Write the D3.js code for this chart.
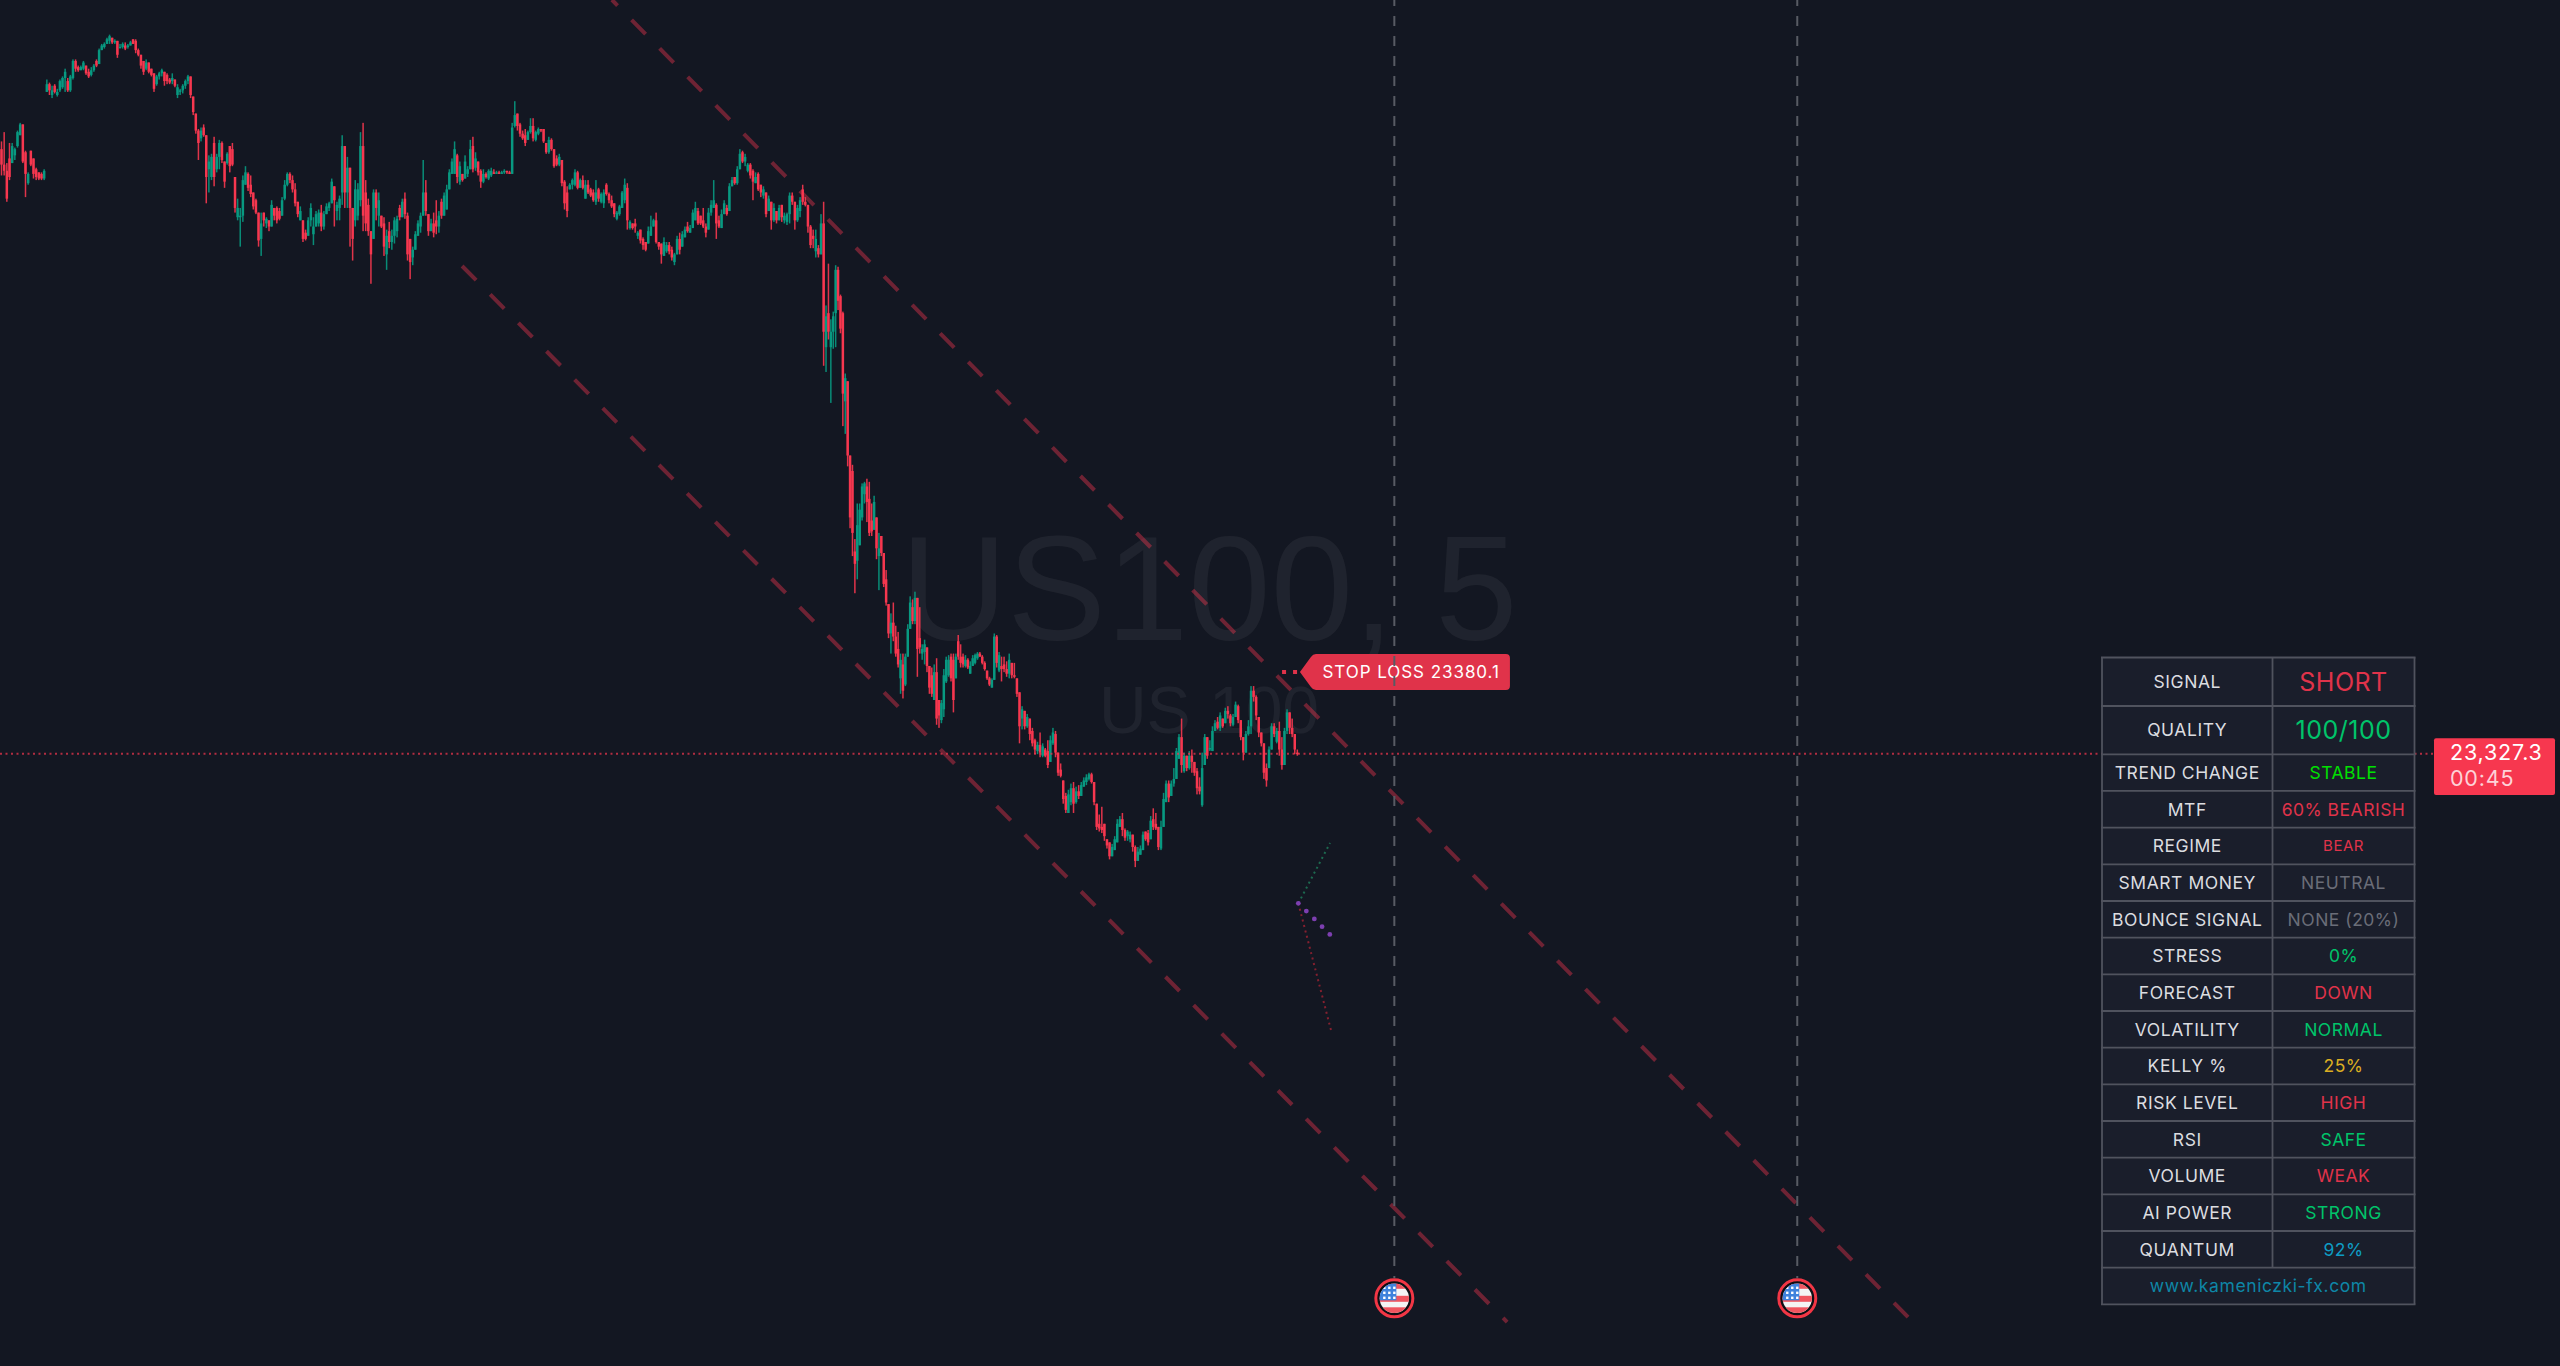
<!DOCTYPE html>
<html><head><meta charset="utf-8">
<script src="https://cdn.jsdelivr.net/npm/d3@7/dist/d3.min.js"></script>
<style>html,body{margin:0;padding:0;background:#131722;overflow:hidden}svg{display:block}</style>
</head><body><svg id="c" width="2560" height="1366"></svg>
<script>
// Prices are points above priceBase; each candle is [open, high, low, close].
const priceBase = 23000;
const symbolTitle = "US100, 5";
const symbolName = "US 100";
const lastPrice = 23327.3;
const countdown = "00:45";
const stopLossPrice = 23380.1;
const legBounds = [0,17,165,308.3,375,486.9];   // bar index where each leg starts
const legA = [[718,723,701,708],[708,729,701,704],[704,709,684,686],[712,722,698,700],[709,722,709,720],[714,719,711,718],[720,730,719,729],[727,735,727,734],[734,734,709,710],[716,717,687,702],[696,703,695,702],[717,717,707,708],[712,712,699,702],[705,706,698,700],[703,703,698,699],[702,703,698,699],[699,705,698,704]];
const legB = [[755,763,755,760],[760,761,753,756],[753,759,751,756],[759,760,754,755],[753,757,752,755],[756,763,755,762],[758,765,757,764],[764,770,755,768],[762,764,755,756],[756,766,755,765],[764,776,763,775],[775,776,768,770],[771,772,768,769],[769,772,769,771],[770,775,769,774],[772,772,766,767],[768,770,764,765],[766,771,765,769],[769,773,768,772],[775,776,771,772],[773,783,773,782],[782,786,782,785],[784,787,783,786],[786,790,786,789],[788,792,786,791],[790,790,786,787],[787,789,786,788],[788,788,777,779],[784,786,783,784],[784,787,783,786],[785,787,782,783],[784,786,783,785],[785,788,785,787],[789,789,786,786],[788,789,780,782],[782,783,778,779],[779,779,770,772],[775,775,766,768],[770,776,769,774],[774,774,767,768],[770,770,765,766],[767,767,755,757],[760,766,759,765],[765,768,763,767],[767,770,765,769],[768,768,759,762],[766,767,760,762],[763,764,760,761],[762,767,760,764],[763,763,758,759],[753,760,751,758],[755,757,753,756],[756,760,754,759],[759,763,757,762],[762,766,760,765],[765,765,751,753],[752,752,740,742],[741,741,728,730],[730,731,711,722],[725,732,723,730],[732,734,726,727],[727,727,683,700],[705,714,690,710],[700,715,698,713],[722,726,694,700],[705,715,703,713],[713,724,705,722],[722,723,709,711],[710,710,693,697],[709,716,708,715],[720,720,703,707],[718,722,707,708],[700,700,677,680],[674,686,672,680],[674,680,655,675],[675,701,671,698],[695,707,696,703],[702,703,691,693],[695,701,687,689],[690,690,679,681],[685,686,676,677],[677,677,655,659],[660,677,649,670],[677,677,668,672],[670,674,667,673],[672,672,665,668],[668,685,668,682],[680,680,672,675],[680,681,670,672],[678,680,672,673],[675,687,675,685],[686,698,685,695],[695,703,694,702],[702,703,696,698],[698,701,690,692],[692,696,681,683],[684,684,674,676],[672,681,672,678],[672,672,658,660],[664,666,659,660],[662,674,662,672],[672,683,668,680],[663,674,656,668],[668,678,668,676],[670,679,668,677],[677,682,665,668],[668,678,666,676],[676,683,677,681],[680,684,678,683],[683,699,683,697],[694,694,668,685],[678,684,672,682],[680,688,672,686],[690,727,682,720],[720,719,680,690],[690,713,680,706],[706,703,655,680],[680,680,646,660],[672,698,668,692],[675,696,672,692],[685,729,681,720],[720,735,665,675],[690,698,665,670],[682,686,662,665],[665,665,631,650],[660,692,664,690],[690,692,672,680],[675,690,668,685],[675,675,667,668],[670,674,649,655],[650,666,640,662],[665,671,654,658],[658,666,653,662],[662,674,657,672],[665,675,661,673],[680,682,672,674],[674,686,675,684],[686,690,673,676],[675,677,646,650],[660,660,634,645],[648,655,643,653],[653,665,654,663],[662,672,663,670],[668,677,664,675],[675,711,675,690],[690,698,675,678],[676,676,662,665],[665,673,667,670],[670,677,661,664],[672,685,663,668],[668,678,664,675]];
const legC = [[684,686,673,675],[675,690,679,688],[679,695,679,692],[692,705,692,703],[702,712,702,710],[702,723,702,718],[714,715,696,700],[697,710,695,707],[702,702,697,698],[699,714,699,710],[702,707,700,705],[705,724,705,718],[720,726,703,705],[706,716,704,712],[710,710,701,703],[704,705,693,697],[697,705,696,702],[702,703,699,700],[699,705,698,704],[701,706,700,704],[703,705,702,702],[702,704,702,703],[703,704,702,702],[702,704,702,703],[703,705,702,704],[704,704,702,703],[703,704,702,702],[702,735,702,732],[733,749,732,740],[741,741,730,733],[734,735,726,728],[728,730,724,725],[727,731,720,722],[724,730,725,729],[729,738,728,733],[733,738,723,725],[724,730,723,729],[728,732,727,731],[731,731,729,730],[731,729,722,723],[722,722,715,716],[716,726,715,724],[724,725,717,718],[718,718,706,707],[712,714,707,708],[708,715,707,713],[711,711,694,696],[697,698,679,683],[690,694,674,678],[692,696,692,695],[695,699,692,698],[695,705,694,703],[703,704,692,693],[693,699,693,698],[698,701,692,693],[686,698,686,695],[695,698,689,690],[692,693,687,688],[690,692,684,685],[684,698,682,690],[692,693,684,686],[684,690,683,689],[683,692,680,690],[695,696,688,689],[689,690,683,685],[685,688,680,681],[683,683,674,676],[673,678,672,677],[676,682,675,681],[680,691,680,690],[685,699,683,695],[693,696,666,672],[667,672,666,671],[670,670,666,667],[670,673,664,668],[662,665,660,664],[666,665,657,659],[660,661,653,656],[658,658,652,653],[657,668,657,665],[662,675,662,668],[668,673,668,672],[672,677,657,658],[658,657,653,655],[657,657,644,650],[649,661,649,658],[652,658,651,656],[656,658,650,652],[653,655,646,648],[645,651,643,650],[650,662,650,660],[660,664,650,653],[655,665,658,663],[661,668,662,666],[668,671,664,665],[664,669,664,667],[667,679,667,677],[672,684,672,680],[678,680,669,670],[675,675,669,670],[672,680,667,668],[668,670,661,664],[666,680,668,677],[677,685,675,682],[680,698,682,685],[682,683,660,670],[672,675,667,668],[667,679,668,676],[676,685,677,683],[680,682,675,676],[678,696,685,694],[694,700,694,698],[700,700,695,696],[696,707,695,705],[705,718,705,715],[716,717,709,710],[710,715,707,713],[704,709,703,708],[708,709,699,701],[704,705,685,697],[696,703,696,700],[702,703,691,692],[695,695,687,690],[688,694,686,692],[690,688,674,676],[678,688,678,686],[684,683,666,672],[672,683,671,680],[678,677,670,672],[672,682,675,680],[682,682,671,674],[672,677,670,675],[671,677,669,676],[676,690,670,688],[688,690,682,684],[684,684,666,672],[672,682,671,680],[678,687,674,685],[692,695,682,684],[684,687,681,682],[682,682,664,668],[668,669,654,656],[662,666,654,660],[652,666,648,660],[654,656,648,650],[650,676,653,670]];
const legD = [[670,684,578,600],[590,617,574,610],[612,644,595,600],[590,608,554,600],[600,613,589,610],[612,643,590,640],[640,642,614,620],[623,624,599,602],[612,613,539,560],[555,573,534,570],[568,560,513,520],[520,512,473,480],[510,514,455,470],[458,466,431,450],[452,489,440,475],[462,489,466,485],[480,502,478,500],[495,503,489,502],[500,505,477,490],[492,503,468,470],[478,489,468,471],[472,494,480,490],[480,480,453,460],[455,470,433,460],[468,468,455,457],[457,457,435,437],[440,446,423,425],[424,424,402,405],[405,418,392,412],[412,425,400,403],[403,410,390,392],[395,406,383,385],[376,392,366,388],[385,392,363,368],[372,392,371,390],[390,411,390,408],[408,429,415,425],[422,427,411,413],[413,432,411,428],[428,423,377,395],[402,422,392,396],[392,398,388,395],[393,401,385,398],[396,392,380,384],[384,382,366,370],[378,383,364,366],[362,385,364,380],[380,389,346,350],[362,362,344,352],[349,362,347,360],[356,382,351,378],[374,390,373,388],[378,391,377,388],[390,392,374,376],[388,392,354,362],[376,392,376,390],[400,404,388,390],[390,398,383,386],[390,392,383,385],[384,391,383,388],[388,389,382,383],[379,387,379,384],[384,391,384,389],[386,392,385,391],[389,393,388,392],[392,393,390,390],[390,391,385,386],[386,387,381,382],[381,381,375,376],[376,377,371,372],[370,376,370,375],[375,405,375,403],[403,404,383,386],[381,393,380,391]];
const legE = [[384,390,374,382],[385,390,380,382],[382,387,377,379],[379,392,376,388],[386,386,376,378],[378,386,376,377],[376,376,364,366],[367,367,334,345],[350,358,343,356],[355,352,343,345],[345,353,344,351],[350,347,336,340],[342,344,332,334],[336,337,327,330],[329,335,327,333],[333,341,325,328],[326,334,325,332],[330,331,325,326],[329,336,318,320],[322,339,327,336],[334,344,333,341],[340,342,325,328],[328,326,313,315],[317,321,312,313],[310,310,295,298],[300,302,289,291],[289,304,289,301],[296,308,294,305],[305,309,289,295],[296,306,295,303],[303,307,298,300],[300,309,300,307],[306,312,306,310],[309,314,307,312],[311,315,310,314],[314,315,308,309],[309,309,294,296],[295,293,278,280],[282,288,277,279],[280,293,276,278],[282,279,271,274],[272,272,266,268],[270,268,259,261],[261,269,263,267],[265,274,267,272],[270,285,271,282],[280,287,280,285],[285,289,274,278],[278,279,271,273],[274,278,271,277],[272,277,270,275],[275,274,264,267],[267,268,254,258],[258,267,258,264],[262,268,263,266],[265,277,267,275],[277,277,271,272],[276,278,268,270],[272,287,278,284],[285,292,278,280],[282,289,278,279],[280,279,265,267],[266,284,265,280],[280,302,294,298],[296,310,296,308],[308,310,296,299],[300,310,306,308],[308,318,306,311],[311,331,318,329],[324,340,327,338],[338,350,315,320],[316,328,315,326],[326,326,316,318],[318,329,317,326],[326,330,315,322],[322,321,313,315],[316,318,301,305],[306,312,301,303],[294,328,293,318],[320,340,321,338],[338,336,324,326],[330,336,329,331],[329,345,329,342],[342,349,342,347],[348,351,343,344],[344,354,342,352],[350,349,344,345],[347,357,349,355],[355,358,350,353],[352,353,345,347],[346,353,345,351],[351,361,353,359],[358,359,347,349],[349,349,336,338],[338,337,323,328],[328,342,331,340],[340,349,339,345],[345,371,340,368],[368,371,361,364],[364,365,349,352],[351,349,338,341],[341,340,332,334],[334,327,311,315],[318,321,306,310],[318,332,320,330],[330,347,332,345],[345,347,338,340],[335,344,334,342],[342,348,326,330],[330,338,317,320],[320,344,327,342],[342,356,340,354],[354,349,340,344],[344,350,338,340],[340,338,327,330],[328,330,326,327]];
const channelUpperIdx = [229.1,720.4];
const channelUpperPrice = [23814.5,22954];
const channelLowerIdx = [172.9,564.8];
const channelLowerPrice = [23642.5,22960];
const newsIdx = [522.5,673.6];
const forecastUpIdx = [486.5,498.4];
const forecastUpPrice = [23230.6,23269.6];
const forecastDownIdx = [486.5,498.75];
const forecastDownPrice = [23230.6,23148.6];
const forecastMidIdx = [486.5,489.5,492.5,495.4,498.3];
const forecastMidPrice = [23230.6,23225.6,23220.5,23215.5,23210.5];
const stopLineIdx = [480.4,487.1];
const tableLabels = ["SIGNAL","QUALITY","TREND CHANGE","MTF","REGIME","SMART MONEY","BOUNCE SIGNAL","STRESS","FORECAST","VOLATILITY","KELLY %","RISK LEVEL","RSI","VOLUME","AI POWER","QUANTUM"];
const tableValues = ["SHORT","100/100","STABLE","60% BEARISH","BEAR","NEUTRAL","NONE (20%)","0%","DOWN","NORMAL","25%","HIGH","SAFE","WEAK","STRONG","92%"];
const tableFooter = "www.kameniczki-fx.com";

// ---- styles
const RED="#e0334a", GRN="#00c46a", GRY="#6a6d78";
const valueColors=[RED,GRN,"#00e000",RED,RED,GRY,GRY,GRN,RED,GRN,"#dcae22",RED,GRN,RED,GRN,"#0e9cc4"];
const upCol="#089981", dnCol="#f7374f";

const svg=d3.select("#c");
const W=2560,H=1366;
const x=d3.scaleLinear().domain([0,960]).range([1,2561]);
const y=d3.scaleLinear().domain([lastPrice,stopLossPrice]).range([753.7,672]);

svg.append("rect").attr("width",W).attr("height",H).attr("fill","#131722");

// watermark
const wm=svg.append("g").attr("font-family","'Liberation Sans',sans-serif").attr("fill","#ffffff").attr("fill-opacity",0.055);
wm.append("text").attr("x",1209).attr("y",640).attr("text-anchor","middle").attr("font-size",148).text(symbolTitle);
wm.append("text").attr("x",1209).attr("y",733).attr("text-anchor","middle").attr("font-size",66).text(symbolName);

// channel
const ln=d3.line().x(d=>x(d[0])).y(d=>y(d[1]));
function channel(idx,pr,off){
  svg.append("path").attr("d",ln(idx.map((v,i)=>[v,pr[i]]))).attr("fill","none")
    .attr("stroke","#f7374f").attr("stroke-opacity",0.4).attr("stroke-width",4)
    .attr("stroke-dasharray","20 20").attr("stroke-dashoffset",off);
}
channel(channelUpperIdx,channelUpperPrice,-28);
channel(channelLowerIdx,channelLowerPrice,0);

// candles
const legs=[legA,legB,legC,legD,legE];
const bars=[];
legs.forEach((leg,k)=>{
  const a=legBounds[k],b=legBounds[k+1];
  leg.forEach((d,i)=>bars.push({idx:a+i*(b-a)/leg.length,o:d[0]+priceBase,h:d[1]+priceBase,l:d[2]+priceBase,c:d[3]+priceBase}));
});
const gC=svg.append("g");
gC.selectAll("rect.w").data(bars).join("rect").attr("class","w")
  .attr("x",d=>x(d.idx)-0.25)
  .attr("width",1.5)
  .attr("y",d=>y(Math.max(d.h,d.o,d.c)))
  .attr("height",d=>y(Math.min(d.l,d.o,d.c))-y(Math.max(d.h,d.o,d.c)))
  .attr("fill",d=>d.c>=d.o?upCol:dnCol).attr("fill-opacity",0.9);
gC.selectAll("rect.b").data(bars).join("rect").attr("class","b")
  .attr("x",d=>x(d.idx)-0.75)
  .attr("width",2.5)
  .attr("y",d=>y(Math.max(d.o,d.c)))
  .attr("height",d=>Math.max(1,Math.abs(y(d.o)-y(d.c))))
  .attr("fill",d=>d.c>=d.o?upCol:dnCol);

// last price line
svg.append("line").attr("x1",0).attr("x2",2434).attr("y1",y(lastPrice)).attr("y2",y(lastPrice))
  .attr("stroke","#f7374f").attr("stroke-opacity",0.7).attr("stroke-width",2).attr("stroke-dasharray","2 3.5");

// forecast
function dotted(idx,pr,col){
  svg.append("path").attr("d",ln(idx.map((v,i)=>[v,pr[i]]))).attr("fill","none")
    .attr("stroke",col).attr("stroke-width",2).attr("stroke-dasharray","2 3.6");
}
dotted(forecastUpIdx,forecastUpPrice,"#1d6a50");
dotted(forecastDownIdx,forecastDownPrice,"#84202f");
svg.append("g").selectAll("circle").data(forecastMidIdx).join("circle")
  .attr("cx",d=>x(d)).attr("cy",(d,i)=>y(forecastMidPrice[i])).attr("r",2.4).attr("fill","#7d3fb0");

// stop loss tag
const slY=y(stopLossPrice);
svg.append("line").attr("x1",x(stopLineIdx[0])).attr("x2",x(stopLineIdx[1])).attr("y1",slY).attr("y2",slY)
  .attr("stroke",RED).attr("stroke-width",4).attr("stroke-dasharray","4 7");
const tx=x(stopLineIdx[1]);
svg.append("path").attr("fill",RED)
  .attr("d",`M${tx},${slY}L${tx+11},${slY-15}Q${tx+13},${slY-18} ${tx+16},${slY-18}H${tx+206}Q${tx+210},${slY-18} ${tx+210},${slY-14}V${slY+14}Q${tx+210},${slY+18} ${tx+206},${slY+18}H${tx+16}Q${tx+13},${slY+18} ${tx+11},${slY+15}Z`);
svg.append("text").attr("x",tx+22.5).attr("y",slY+6).attr("fill","#fff")
  .attr("font-family","Inter,sans-serif").attr("font-size",17).attr("letter-spacing",0.95)
  .text("STOP LOSS "+stopLossPrice.toFixed(1));

// news verticals + flags
const defs=svg.append("defs");
defs.append("clipPath").attr("id","fc").append("circle").attr("r",14.7);
newsIdx.forEach(ix=>{
  const cx=x(ix);
  svg.append("line").attr("x1",cx).attr("x2",cx).attr("y1",0).attr("y2",1278)
    .attr("stroke","#585b64").attr("stroke-width",2).attr("stroke-dasharray","10 10").attr("stroke-dashoffset",4);
  const g=svg.append("g").attr("transform",`translate(${cx},1298.3)`);
  g.append("circle").attr("r",18.5).attr("fill","#0d0f14").attr("stroke","#f23645").attr("stroke-width",3);
  const f=g.append("g").attr("clip-path","url(#fc)");
  f.append("rect").attr("x",-15).attr("y",-15).attr("width",30).attr("height",30).attr("fill","#f4f4f4");
  [-15,-5,5].forEach((s,i)=>f.append("rect").attr("x",-15).attr("y",i==0?-15:i==1?-2.5:9).attr("width",30).attr("height",i==0?5.5:i==1?6:6).attr("fill","#f0555f"));
  f.append("rect").attr("x",-15).attr("y",-15).attr("width",17).attr("height",17).attr("fill","#3f82dc");
  [-10,-5,0].forEach(a=>[-10.5,-5.5,-0.5].forEach(b=>f.append("rect").attr("x",a-1.2).attr("y",b-1.2).attr("width",2.4).attr("height",2.4).attr("fill","#fff")));
});

// price label
svg.append("rect").attr("x",2434).attr("y",738.3).attr("width",121).attr("height",56.7).attr("rx",2).attr("fill","#f7374f");
const pl=svg.append("g").attr("font-family","Inter,sans-serif").attr("font-size",21.5).attr("letter-spacing",0.8);
pl.append("text").attr("x",2450).attr("y",760).attr("fill","#fff").text(d3.format(",.1f")(lastPrice));
pl.append("text").attr("x",2450).attr("y",785.7).attr("fill","#fff").attr("fill-opacity",0.78).text(countdown);

// table
const tX0=2102,tX1=2272.5,tX2=2414.5;
const rowEdges=[657.5,706,754.3];
for(let i=3;i<=tableLabels.length;i++)rowEdges.push(754.3+36.67*(i-2));
rowEdges.push(rowEdges[rowEdges.length-1]+36.67);
const T=svg.append("g");
T.append("rect").attr("x",tX0).attr("y",rowEdges[0]).attr("width",tX2-tX0).attr("height",rowEdges[rowEdges.length-1]-rowEdges[0]).attr("fill","#1a1e2b");
const BC="#50535e";
rowEdges.forEach(e=>T.append("line").attr("x1",tX0-1).attr("x2",tX2+1).attr("y1",e).attr("y2",e).attr("stroke",BC).attr("stroke-width",1.8));
[tX0,tX2].forEach(v=>T.append("line").attr("x1",v).attr("x2",v).attr("y1",rowEdges[0]).attr("y2",rowEdges[rowEdges.length-1]).attr("stroke",BC).attr("stroke-width",1.8));
T.append("line").attr("x1",tX1).attr("x2",tX1).attr("y1",rowEdges[0]).attr("y2",rowEdges[rowEdges.length-2]).attr("stroke",BC).attr("stroke-width",1.8);
const valSize=i=>i<2?25:i==4?15:17.5;
T.selectAll("text.l").data(tableLabels).join("text").attr("class","l")
  .attr("x",(tX0+tX1)/2).attr("y",(d,i)=>(rowEdges[i]+rowEdges[i+1])/2).attr("dy","0.36em")
  .attr("text-anchor","middle").attr("font-family","Inter,sans-serif").attr("font-size",17.5).attr("letter-spacing",0.55)
  .attr("fill","#dcdde0").text(d=>d);
T.selectAll("text.v").data(tableValues).join("text").attr("class","v")
  .attr("x",(tX1+tX2)/2).attr("y",(d,i)=>(rowEdges[i]+rowEdges[i+1])/2).attr("dy","0.36em")
  .attr("text-anchor","middle").attr("font-family","Inter,sans-serif").attr("font-size",(d,i)=>valSize(i)).attr("letter-spacing",0.5)
  .attr("fill",(d,i)=>valueColors[i]).text(d=>d);
T.append("text").attr("x",(tX0+tX2)/2).attr("y",(rowEdges[16]+rowEdges[17])/2).attr("dy","0.36em")
  .attr("text-anchor","middle").attr("font-family","Inter,sans-serif").attr("font-size",17.5).attr("letter-spacing",0.6)
  .attr("fill","#0e86a6").text(tableFooter);
</script></body></html>
